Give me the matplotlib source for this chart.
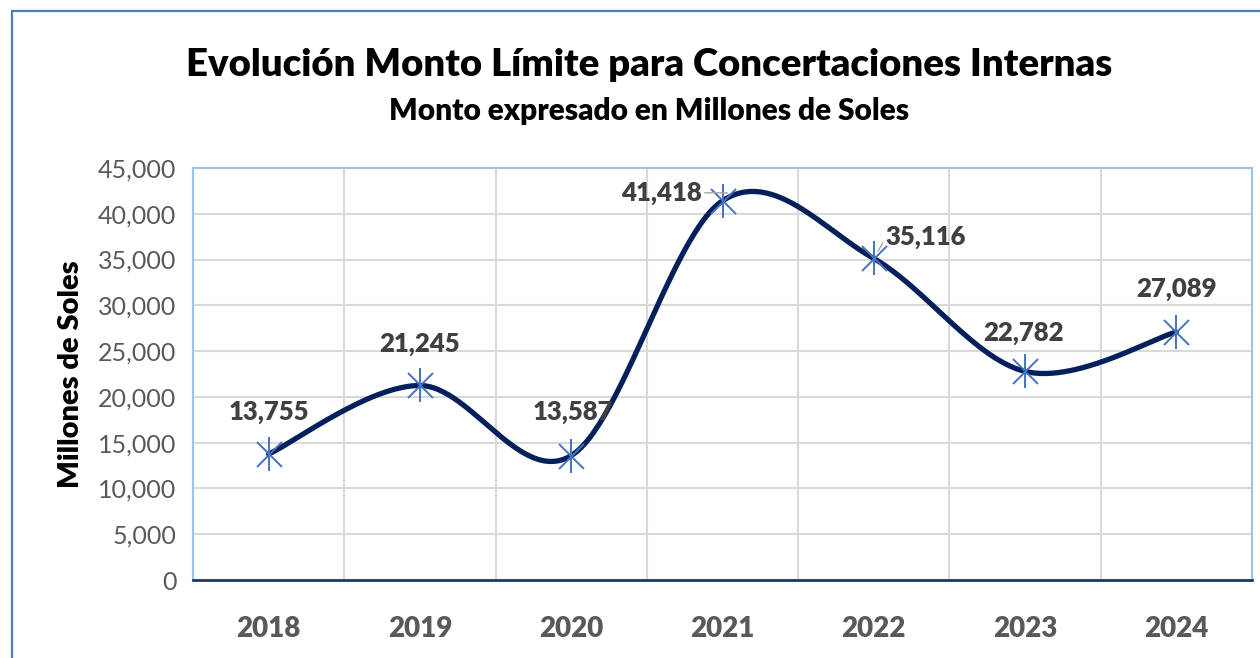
import matplotlib
matplotlib.use("Agg")
import matplotlib.pyplot as plt
from matplotlib.patches import Rectangle
import numpy as np

plt.rcParams['font.family'] = ['Lato', 'DejaVu Sans']

# datos
anios = ["2018", "2019", "2020", "2021", "2022", "2023", "2024"]
montos = [13755, 21245, 13587, 41418, 35116, 22782, 27089]
etiquetas = ["13,755", "21,245", "13,587", "41,418", "35,116", "22,782", "27,089"]
y_ticks = [0, 5000, 10000, 15000, 20000, 25000, 30000, 35000, 40000, 45000]


def suavizar(x, y, n=60):
    """Curva tipo Excel (Bezier con puntos de control Catmull-Rom)."""
    x = np.asarray(x, float)
    y = np.asarray(y, float)
    px = np.concatenate([[x[0]], x, [x[-1]]])
    py = np.concatenate([[y[0]], y, [y[-1]]])
    xs, ys = [], []
    t = np.linspace(0, 1, n)
    for i in range(1, len(px) - 2):
        p0 = np.array([px[i], py[i]])
        p3 = np.array([px[i + 1], py[i + 1]])
        c1 = p0 + (np.array([px[i + 1], py[i + 1]]) - np.array([px[i - 1], py[i - 1]])) / 6
        c2 = p3 - (np.array([px[i + 2], py[i + 2]]) - np.array([px[i], py[i]])) / 6
        b = ((1 - t) ** 3)[:, None] * p0 + (3 * (1 - t) ** 2 * t)[:, None] * c1 \
            + (3 * (1 - t) * t ** 2)[:, None] * c2 + (t ** 3)[:, None] * p3
        xs.extend(b[:, 0])
        ys.extend(b[:, 1])
    return xs, ys


fig = plt.figure(figsize=(12.6, 6.58), dpi=100)
ax = fig.add_axes([193 / 1260, 1 - 580 / 658, (1252 - 193) / 1260, (580 - 168) / 658])

x = np.arange(len(anios))
sx, sy = suavizar(x, montos)
ax.plot(sx, sy, color='#03205C', lw=3.8, solid_capstyle='round', zorder=3)
ax.plot(x, montos, ls='none', marker='x', ms=18, mew=1.4, color='#4472C4', zorder=4)
ax.plot(x, montos, ls='none', marker='|', ms=24, mew=1.4, color='#4472C4', zorder=4)

ax.set_xlim(-0.5, len(anios) - 0.5)
ax.set_ylim(0, 45000)
ax.set_yticks(y_ticks)
ax.set_yticklabels(["{:,}".format(v) for v in y_ticks], fontsize=18, color='#595959')
ax.set_xticks(x)
ax.set_xticklabels(anios, fontsize=20, fontweight='heavy', color='#595959')
ax.set_xticks(np.arange(-0.5, len(anios)), minor=True)
ax.tick_params(axis='both', which='both', length=0)
ax.tick_params(axis='x', pad=26)
ax.tick_params(axis='y', pad=12)
ax.grid(True, axis='y', which='major', color='#D9D9D9', lw=1.5)
ax.grid(True, axis='x', which='minor', color='#D9D9D9', lw=1.5)
ax.set_axisbelow(True)
for s in ['left', 'top', 'right']:
    ax.spines[s].set_color('#9DC3E6')
    ax.spines[s].set_linewidth(1.5)
ax.spines['bottom'].set_color('#1F3864')
ax.spines['bottom'].set_linewidth(2)

ax.set_ylabel("Millones de Soles", fontsize=21, fontweight='heavy', color='black', labelpad=10)

# etiquetas de datos (desplazamiento en pixeles)
offsets = [(0, 42), (0, 41), (2, 44), (-61, 8), (52, 21), (-2, 38), (0, 43)]
for i in range(len(anios)):
    dx, dy = offsets[i]
    arrow = None
    if i in (3, 4):
        arrow = dict(arrowstyle='-', color='#A6A6A6', lw=1, shrinkA=0, shrinkB=6,
                     connectionstyle='angle,angleA=0,angleB=60,rad=0')
    ax.annotate(etiquetas[i], (x[i], montos[i]), xytext=(dx, dy), textcoords='offset pixels',
                ha='center', va='center', fontsize=18.5, fontweight='heavy', color='#404040',
                arrowprops=arrow, zorder=5)

fig.text(649 / 1260, 1 - 65 / 658, "Evolución Monto Límite para Concertaciones Internas",
         ha='center', va='center', fontsize=27.5, fontweight='heavy', color='black')
fig.text(649 / 1260, 1 - 111 / 658, "Monto expresado en Millones de Soles",
         ha='center', va='center', fontsize=21.5, fontweight='heavy', color='black')

fig.patches.append(Rectangle((12 / 1260, -0.1), 1.2, 1 - 11 / 658 + 0.1, transform=fig.transFigure,
                             fill=False, edgecolor='#4A7EC0', lw=1.6))

fig.savefig("out.png", dpi=100)
